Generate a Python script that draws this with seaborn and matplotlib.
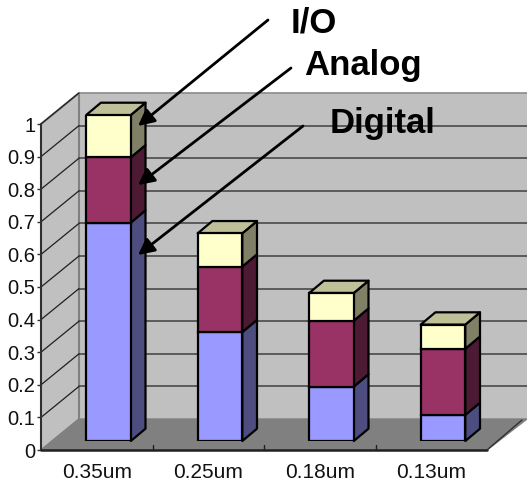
import matplotlib
matplotlib.use("Agg")
import matplotlib.pyplot as plt
import numpy as np
import pandas as pd
import seaborn as sns

categories = ["0.35um", "0.25um", "0.18um", "0.13um"]
digital = [0.67, 0.334, 0.167, 0.08]
analog = [0.20, 0.201, 0.202, 0.203]
io = [0.13, 0.102, 0.085, 0.074]
series_names = ["Digital", "Analog", "I/O"]
y_ticks = [0, 0.1, 0.2, 0.3, 0.4, 0.5, 0.6, 0.7, 0.8, 0.9, 1]
y_labels = ["0", "0.1", "0.2", "0.3", "0.4", "0.5", "0.6", "0.7", "0.8", "0.9", "1"]

W, H = 527, 484
sns.set_style("white")
plt.rcParams["font.family"] = ["Liberation Sans", "DejaVu Sans"]

df = pd.DataFrame({"size": categories, "Digital": digital, "Analog": analog, "I/O": io})

fig = plt.figure(figsize=(W / 100, H / 100), dpi=100)


def axes_px(left, right, top, bottom):
    return fig.add_axes([left / W, 1 - bottom / H, (right - left) / W, (bottom - top) / H])


# front plane of the fake 3d box, pixels
ax = axes_px(41, 487, 124, 450)
ax.set_xlim(-0.5, 3.5)
ax.set_ylim(0, 1)
ax.patch.set_visible(False)
for s in ax.spines.values():
    s.set_visible(False)

xunit = 446 / 4
yunit = 326
wall_dx = 38 / xunit
wall_dy = 31 / yunit
right_end = 3.5 + 40 / xunit

# walls and floor
ax.fill([-0.5, -0.5 + wall_dx, -0.5 + wall_dx, -0.5], [0, wall_dy, 1 + wall_dy, 1],
        color="#c0c0c0", clip_on=False, zorder=1)
ax.fill([-0.5 + wall_dx, right_end, right_end, -0.5 + wall_dx], [wall_dy, wall_dy, 1 + wall_dy, 1 + wall_dy],
        color="#c0c0c0", clip_on=False, zorder=1)
ax.fill([-0.5, 3.5, right_end, -0.5 + wall_dx], [0, 0, wall_dy, wall_dy],
        color="#808080", clip_on=False, zorder=2)
ax.plot([-0.5, -0.5 + wall_dx, -0.5 + wall_dx], [1, 1 + wall_dy, wall_dy], color="#808080", lw=1.5, clip_on=False, zorder=2)
ax.plot([-0.5 + wall_dx, right_end], [1 + wall_dy, 1 + wall_dy], color="#8c8c8c", lw=1.2, clip_on=False, zorder=2)
ax.plot([-0.5, -0.5 + wall_dx], [0, wall_dy], color="#808080", lw=1, clip_on=False, zorder=2)

# gridlines run across the back wall and down the side wall
for v in y_ticks[1:-1] + [1]:
    if v < 1:
        ax.plot([-0.5 + wall_dx, right_end], [v + wall_dy, v + wall_dy], color="#404040", lw=1.1, clip_on=False, zorder=2)
    ax.plot([-0.5, -0.5 + wall_dx], [v, v + wall_dy], color="#202020", lw=0.9, clip_on=False, zorder=2)

# axis lines
ax.plot([-0.5, -0.5], [0, 1], color="#303030", lw=1.5, clip_on=False, zorder=3)
ax.plot([-0.5, 3.5], [0, 0], color="#202020", lw=1.8, clip_on=False, zorder=3)
ax.plot([3.5, right_end - 5 / xunit], [0, wall_dy - 1 / yunit], color="#303030", lw=1, clip_on=False, zorder=3)
for i in range(1, 4):
    ax.plot([i - 0.5, i - 0.5], [0, 5 / yunit], color="#202020", lw=1, clip_on=False, zorder=3)
ax.set_xticks(range(4))
ax.set_xticklabels(categories, fontsize=15, color="#111111")
ax.set_yticks(y_ticks)
ax.set_yticklabels(y_labels, fontsize=14.5, color="#111111")
ax.tick_params(axis="x", length=0, pad=9.5)
ax.tick_params(axis="y", length=3, width=1, color="#303030", pad=1, left=True)

# bars sit a little inside the box, so they get their own shifted axes
ax_bar = axes_px(41 + 11.75, 487 + 11.75, 124 - 9, 450 - 9)
ax_bar.patch.set_visible(False)
ax_bar.axis("off")

front_colors = ["#9999ff", "#993366", "#ffffcc"]
side_colors = ["#4d4d80", "#4d1a33", "#808066"]
top_color = "#bfbf99"
bar_dx = 14.7 / xunit
bar_dy = 12.3 / yunit
bar_w = 0.4

bottoms = np.zeros(len(categories))
for name, front, side in zip(series_names, front_colors, side_colors):
    values = df[name].to_numpy()
    n_before = len(ax_bar.patches)
    sns.barplot(data=df, x="size", y=name, color=front, saturation=1, width=bar_w, bottom=bottoms,
                edgecolor="black", linewidth=1.6, errorbar=None, ax=ax_bar, zorder=5)
    for p in ax_bar.patches[n_before:]:
        x0, x1 = p.get_x(), p.get_x() + p.get_width()
        y0, y1 = p.get_y(), p.get_y() + p.get_height()
        ax_bar.fill([x1, x1 + bar_dx, x1 + bar_dx, x1], [y0, y0 + bar_dy, y1 + bar_dy, y1],
                    facecolor=side, edgecolor="black", lw=1.6, clip_on=False, zorder=4, joinstyle="round")
        if name == series_names[-1]:
            ax_bar.fill([x0, x1, x1 + bar_dx, x0 + bar_dx], [y1, y1, y1 + bar_dy, y1 + bar_dy],
                        facecolor=top_color, edgecolor="black", lw=1.6, clip_on=False, zorder=4, joinstyle="round")
    bottoms = bottoms + values
ax_bar.set_xlim(-0.5, 3.5)
ax_bar.set_ylim(0, 1)
ax_bar.axis("off")


# callouts, written in picture pixels
def fig_xy(px, py):
    return (px / W, 1 - py / H)


callouts = [("I/O", 291, 33, (268, 20), (138, 126)),
            ("Analog", 304.5, 75, (291, 68), (138, 185)),
            ("Digital", 329.5, 133, (303, 126), (138, 255))]
for label, tx, ty, start, tip in callouts:
    fig.text(*fig_xy(tx, ty), label, fontsize=25, fontweight="bold", color="black", ha="left", va="baseline", zorder=20)
    ax_bar.annotate("", xy=fig_xy(*tip), xytext=fig_xy(*start), xycoords="figure fraction",
                    textcoords="figure fraction", zorder=20, annotation_clip=False,
                    arrowprops=dict(arrowstyle="-|>,head_length=0.7,head_width=0.35", color="black", lw=2.0,
                                    shrinkA=0, shrinkB=0, mutation_scale=14))

fig.savefig("out.png", dpi=100)
